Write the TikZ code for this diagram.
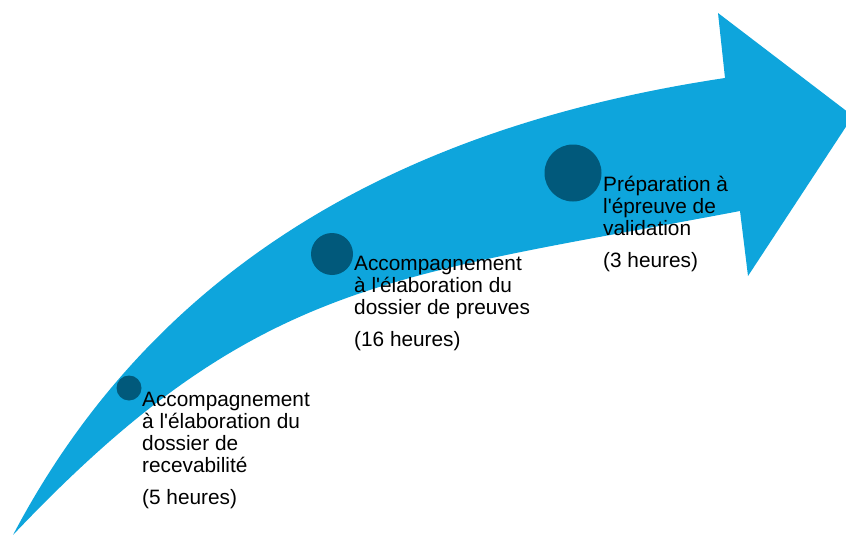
\documentclass[tikz,border=0pt]{standalone}
\usepackage{fontspec}
\setmainfont{Liberation Sans}
\definecolor{arrowblue}{RGB}{14,165,220}
\definecolor{dotblue}{RGB}{1,89,123}
\begin{document}
\begin{tikzpicture}[x=1pt,y=-1pt,
  dot/.style={circle,fill=dotblue,draw=none,inner sep=0pt},
  steptext/.style={anchor=base west,inner sep=0pt,text=black,
    font=\fontsize{20.8}{22.3}\selectfont}]
\useasboundingbox (0,0) rectangle (846,535);
% curved arrow
\fill[arrowblue] (13,535) .. controls (163,250) and (425,123) .. (725,78)
  -- (718,13) -- (853,116) -- (748,276) -- (740,211)
  .. controls (390,277.5) and (256,278.5) .. (13,535) -- cycle;
% dots
\node[dot,minimum size=25pt] (d1) at (129,388) {};
\node[dot,minimum size=42pt] (d2) at (332,254) {};
\node[dot,minimum size=57pt] (d3) at (573,173) {};
% texts
\node[steptext] (t1) at (142,406) {\begin{tabular}[t]{@{}l@{}}Accompagnement\\ à l\textquotesingle élaboration du\\ dossier de\\ recevabilité\\[9.4pt] (5 heures)\end{tabular}};
\node[steptext] (t2) at (354,270) {\begin{tabular}[t]{@{}l@{}}Accompagnement\\ à l\textquotesingle élaboration du\\ dossier de preuves\\[9.4pt] (16 heures)\end{tabular}};
\node[steptext] (t3) at (603,191) {\begin{tabular}[t]{@{}l@{}}Préparation à\\ l\textquotesingle épreuve de\\ validation\\[9.4pt] (3 heures)\end{tabular}};
\end{tikzpicture}
\end{document}
